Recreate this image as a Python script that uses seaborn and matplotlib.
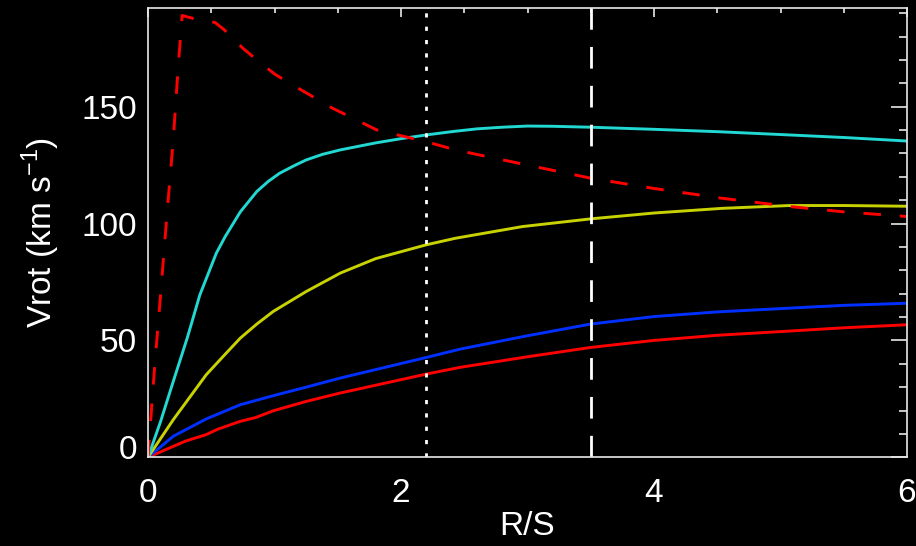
import numpy as np
import pandas as pd
import matplotlib
matplotlib.use("Agg")
import matplotlib.pyplot as plt
import matplotlib.transforms as mtransforms
from matplotlib.ticker import MultipleLocator, FixedLocator
import seaborn as sns

# Rotation-curve components versus radius in units of the scale length
r_total = [0, 0.05, 0.1, 0.15, 0.2, 0.24, 0.27, 0.36, 0.53, 0.6, 0.75, 0.86, 1.0,
           1.12, 1.27, 1.39, 1.46, 1.81, 2.2, 2.43, 3.0, 3.5, 4.0, 4.54, 5.07, 5.5, 6.0]
v_total = [0, 37, 70, 104, 136, 168, 189, 187.7, 186, 183, 175, 170, 164,
           160, 155.3, 151.4, 149.3, 140, 135, 131.5, 125, 119.4, 115, 110.8, 107.3, 105, 103]

r_cyan = [0, 0.1, 0.2, 0.31, 0.41, 0.54, 0.61, 0.73, 0.86, 0.95, 1.04, 1.15, 1.25,
          1.38, 1.52, 1.8, 2.0, 2.2, 2.4, 2.6, 2.8, 3.0, 3.2, 3.5, 4.0, 4.5, 5.07, 5.5, 6.0]
v_cyan = [0, 15.4, 32.5, 51, 69.5, 87.3, 94.4, 105, 113.7, 118, 121.5, 124.6, 127.2,
          129.6, 131.5, 134.5, 136.3, 137.9, 139.3, 140.5, 141.2, 141.7, 141.6, 141.2,
          140.3, 139.3, 137.9, 136.8, 135.3]

r_yellow = [0, 0.2, 0.46, 0.6, 0.73, 0.86, 0.99, 1.25, 1.52, 1.8, 2.2, 2.43, 2.96,
            3.5, 4.0, 4.54, 5.07, 5.5, 6.0]
v_yellow = [0, 16.1, 35.3, 43.5, 51, 57, 62.4, 70.9, 78.8, 85, 90.9, 93.7, 98.7,
            102, 104.5, 106.5, 107.7, 107.7, 107.4]

r_blue = [0, 0.2, 0.46, 0.73, 1.0, 1.25, 1.52, 2.2, 2.47, 3.0, 3.5, 4.0, 4.5, 5.07, 5.5, 6.0]
v_blue = [0, 9, 16.4, 22.5, 26.5, 30, 33.9, 42.7, 46.3, 52, 57, 60.2, 62.2, 63.8, 65, 65.9]

r_red = [0, 0.2, 0.3, 0.46, 0.55, 0.73, 0.85, 0.99, 1.25, 1.52, 2.2, 2.47, 3.0,
         3.5, 4.0, 4.5, 5.07, 5.5, 6.0]
v_red = [0, 4.7, 7, 9.7, 12, 15.4, 17, 19.9, 23.9, 27.5, 35.6, 38.5, 43,
         47, 50, 52.2, 54, 55.4, 56.7]

# Reference radii marked with vertical lines
r_dotted = 2.2
r_dashed = 3.5

x_ticks = [0, 2, 4, 6]
y_ticks = [0, 50, 100, 150]

sns.set_theme(style="dark", rc={
    "figure.facecolor": "black",
    "axes.facecolor": "black",
    "axes.edgecolor": "#E8E8E8",
    "text.color": "white",
    "axes.labelcolor": "white",
    "xtick.color": "#E8E8E8",
    "ytick.color": "#E8E8E8",
    "axes.grid": False,
})
plt.rcParams["font.family"] = ["Liberation Sans", "DejaVu Sans"]

fig = plt.figure(figsize=(9.16, 5.46), dpi=100)
ax = fig.add_axes([148 / 916, 1 - 457.3 / 546, (907 - 148) / 916, (457.3 - 8) / 546])

lw = 2.1
series = [
    (r_red, v_red, "#FF0000"),
    (r_blue, v_blue, "#0030FF"),
    (r_yellow, v_yellow, "#C8D200"),
    (r_cyan, v_cyan, "#22D8D2"),
]
for r, v, c in series:
    df = pd.DataFrame({"R": r, "V": v})
    sns.lineplot(data=df, x="R", y="V", color=c, linewidth=lw, ax=ax,
                 estimator=None, sort=False)

df_tot = pd.DataFrame({"R": r_total, "V": v_total})
sns.lineplot(data=df_tot, x="R", y="V", color="#FF0000", linewidth=lw, ax=ax,
             estimator=None, sort=False, linestyle=(0, (6.0, 6.5)))

ax.axvline(r_dotted, color="white", linewidth=2.0, linestyle=(0, (1.5, 3.3)))
ax.axvline(r_dashed, color="white", linewidth=2.0, linestyle=(0, (7.8, 6.2)))

ax.set_xlim(0, 6)
ax.set_ylim(0, 192.2)

ax.xaxis.set_major_locator(FixedLocator(x_ticks))
ax.xaxis.set_minor_locator(MultipleLocator(0.5))
ax.yaxis.set_major_locator(FixedLocator(y_ticks))
ax.yaxis.set_minor_locator(MultipleLocator(10))

ax.tick_params(axis="both", which="both", direction="in", top=True, right=True,
               labelsize=24, colors="#E8E8E8", labelcolor="white")
ax.tick_params(axis="x", which="major", length=6.5, width=1.2, pad=15)
ax.tick_params(axis="x", which="minor", length=3.3, width=1.2)
ax.tick_params(axis="y", which="major", length=11.5, width=1.2, pad=8)
ax.tick_params(axis="y", which="minor", length=6.0, width=1.2)

for s in ax.spines.values():
    s.set_linewidth(1.2)
    s.set_color("#E8E8E8")
    s.set_visible(True)

ax.set_xlabel("R/S", fontsize=24, labelpad=1)
ax.set_ylabel("Vrot (km s$^{\\mathregular{-1}}$)", fontsize=24, labelpad=14)

# lift the zero label of the velocity axis clear of the corner
fig.canvas.draw()
for lab in ax.get_yticklabels():
    if lab.get_text() == "0":
        lab.set_transform(lab.get_transform() +
                          mtransforms.ScaledTranslation(0, 10 / 100, fig.dpi_scale_trans))

fig.savefig("out.png", dpi=100, facecolor="black")
